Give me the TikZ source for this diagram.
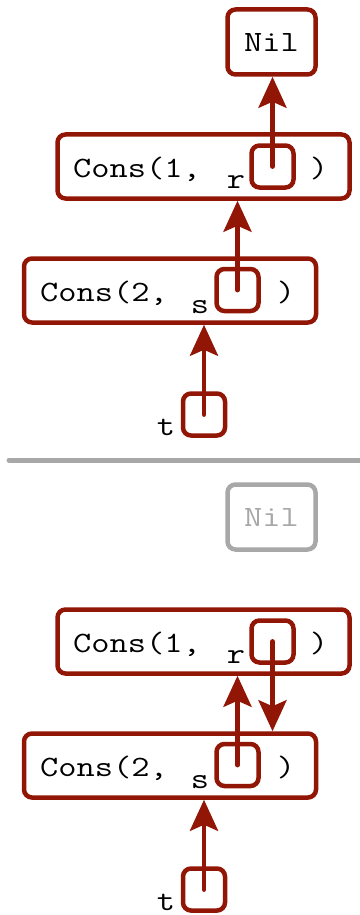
\documentclass[tikz,border=0pt]{standalone}
\usepackage{graphicx}
\usetikzlibrary{arrows.meta}
\definecolor{consRed}{RGB}{146,22,6}
\definecolor{nilGray}{RGB}{168,168,168}
\newcommand{\wideTT}[1]{\scalebox{1.2}[1]{#1}}
\begin{document}
\begin{tikzpicture}[x=1pt, y=-1pt,
    boxStyle/.style={draw=consRed, line width=4.5pt, rounded corners=8pt, fill=white, inner sep=0pt},
    consStyle/.style={boxStyle, minimum width=292pt, minimum height=64pt},
    ptrStyle/.style={boxStyle, minimum width=42pt, minimum height=42pt},
    nilStyle/.style={boxStyle, minimum width=88pt, minimum height=65pt, font=\ttfamily\fontsize{29.5}{29.5}\selectfont},
    textStyle/.style={inner sep=0pt, font=\ttfamily\fontsize{29.5}{29.5}\selectfont},
    arrowStyle/.style={draw=consRed, line width=4.8pt, line cap=round, -{Stealth[length=31pt, width=28pt, inset=6pt]}}]
    \useasboundingbox (0,0) rectangle (359,915);

    % before
    \node[nilStyle](nil) at (271.5, 42) {\wideTT{Nil}};
    \node[consStyle](cons1) at (203.5, 166.5) {};
    \node[consStyle](cons2) at (170, 290.5) {};
    \node[textStyle, anchor=base west](txt1) at (73, 177) {\wideTT{Cons(1,}};
    \node[textStyle, anchor=base west](txt2) at (40, 301) {\wideTT{Cons(2,}};
    \node[textStyle, anchor=base](r) at (236, 188) {\wideTT{r}};
    \node[textStyle, anchor=base](s) at (200, 313) {\wideTT{s}};
    \node[textStyle, anchor=base](t) at (166, 435) {\wideTT{t}};
    \node[textStyle, anchor=base](par1) at (319, 177) {\wideTT{)}};
    \node[textStyle, anchor=base](par2) at (286, 301) {\wideTT{)}};
    \node[ptrStyle](ptrR) at (272.5, 166.5) {};
    \node[ptrStyle](ptrS) at (237.5, 290) {};
    \node[ptrStyle](ptrT) at (204, 414.5) {};

    \draw[arrowStyle] (ptrR.center) -- (ptrR.center |- nil.south);
    \draw[arrowStyle] (ptrS.center) -- (ptrS.center |- cons1.south);
    \draw[arrowStyle] (ptrT.center) -- (ptrT.center |- cons2.south);

    % separator
    \coordinate (sepL) at (9, 460);
    \coordinate (sepR) at (366, 460);
    \draw[nilGray, line width=5pt, line cap=round] (sepL) -- (sepR);

    % after
    \node[nilStyle, draw=nilGray, text=nilGray](nilB) at (271.5, 517) {\wideTT{Nil}};
    \node[consStyle](cons1B) at (203.5, 641.5) {};
    \node[consStyle](cons2B) at (170, 765.5) {};
    \node[textStyle, anchor=base west](txt1B) at (73, 652) {\wideTT{Cons(1,}};
    \node[textStyle, anchor=base west](txt2B) at (40, 776) {\wideTT{Cons(2,}};
    \node[textStyle, anchor=base](rB) at (236, 663) {\wideTT{r}};
    \node[textStyle, anchor=base](sB) at (200, 788) {\wideTT{s}};
    \node[textStyle, anchor=base](tB) at (166, 910) {\wideTT{t}};
    \node[textStyle, anchor=base](par1B) at (319, 652) {\wideTT{)}};
    \node[textStyle, anchor=base](par2B) at (286, 776) {\wideTT{)}};
    \node[ptrStyle](ptrRB) at (272.5, 641.5) {};
    \node[ptrStyle](ptrSB) at (237.5, 765) {};
    \node[ptrStyle](ptrTB) at (204, 889.5) {};

    \draw[arrowStyle] (ptrRB.center) -- (ptrRB.center |- cons2B.north);
    \draw[arrowStyle] (ptrSB.center) -- (ptrSB.center |- cons1B.south);
    \draw[arrowStyle] (ptrTB.center) -- (ptrTB.center |- cons2B.south);
\end{tikzpicture}
\end{document}
